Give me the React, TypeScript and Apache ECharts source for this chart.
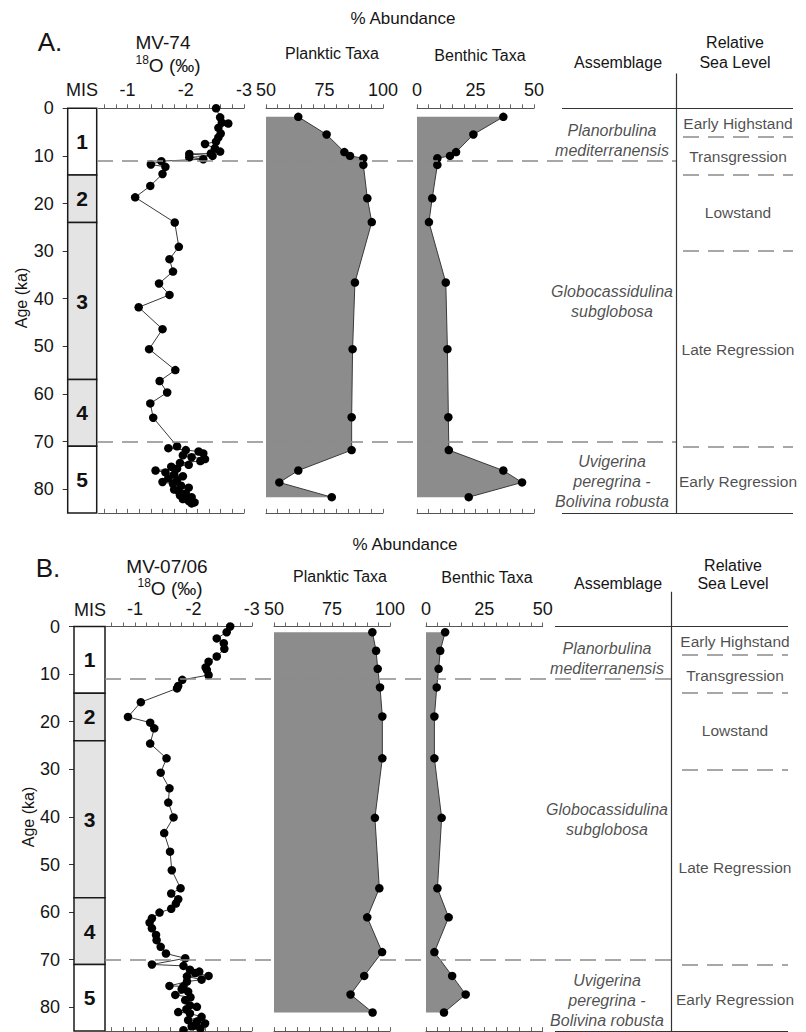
import React, { useEffect, useRef } from 'react';
import * as echarts from 'echarts';

const FONT = '"Liberation Sans", Arial, Helvetica, sans-serif';

// ---------- shared scales / annotations ----------
const ageMax = 85;
const ageTicks = [0, 10, 20, 30, 40, 50, 60, 70, 80];
const isoTicks = [-3, -2.8, -2.6, -2.4, -2.2, -2, -1.8, -1.6, -1.4, -1.2, -1, -0.8, -0.6];
const isoTickLabels = [-3, -2, -1];
const planktonTicks = [50, 55, 60, 65, 70, 75, 80, 85, 90, 95, 100];
const planktonTickLabels = [50, 75, 100];
const benthicTicks = [0, 5, 10, 15, 20, 25, 30, 35, 40, 45, 50];
const benthicTickLabels = [0, 25, 50];

const misStages = ['1', '2', '3', '4', '5'];
const misBounds = [0, 14, 24, 57, 71, 85];
const misGlacial = [false, true, true, true, false];

const assemblages = ['Planorbulina\nmediterranensis', 'Globocassidulina\nsubglobosa', 'Uvigerina\nperegrina -\nBolivina robusta'];
const assemblageAges = [6.7, 40.5, 78.5];
const assemblageBounds = [11, 70];
const seaLevels = ['Early Highstand', 'Transgression', 'Lowstand', 'Late Regression', 'Early Regression'];
const seaLevelAges = [3.2, 10.2, 21.8, 50.7, 78.4];
const seaLevelBounds = [6, 14, 30, 71];

// ---------- Panel A : MV-74 ----------
const aIsoAge = [0.0, 1.9, 3.0, 3.2, 4.1, 5.3, 6.1, 7.0, 7.5, 8.4, 9.1, 9.5, 9.6, 10.0, 10.3, 10.7, 11.1, 11.8, 12.3, 13.8, 16.3, 18.7, 24.0, 29.1, 31.7, 34.3, 36.8, 39.2, 41.8, 46.4, 50.6, 55.0, 57.3, 59.7, 62.0, 65.0, 71.0, 71.4, 71.8, 72.1, 72.5, 72.9, 73.3, 73.7, 74.1, 74.5, 74.9, 75.3, 75.7, 76.1, 76.5, 76.9, 77.3, 77.7, 78.1, 78.5, 78.9, 79.3, 79.7, 80.1, 80.5, 80.9, 81.3, 81.7, 82.1, 82.5, 82.8, 83.0];
const aIso = [-2.52, -2.59, -2.62, -2.73, -2.56, -2.60, -2.56, -2.52, -2.33, -2.50, -2.59, -2.43, -2.06, -2.46, -2.06, -2.30, -1.58, -1.40, -1.65, -1.60, -1.39, -1.13, -1.81, -1.88, -1.72, -1.78, -1.54, -1.72, -1.19, -1.60, -1.37, -1.82, -1.55, -1.68, -1.39, -1.44, -1.85, -1.70, -2.00, -2.22, -2.30, -1.95, -2.10, -2.33, -2.25, -1.90, -2.05, -1.75, -1.85, -1.48, -1.65, -1.80, -1.95, -1.70, -1.85, -1.60, -1.78, -1.92, -2.05, -1.80, -1.88, -2.00, -1.90, -2.10, -1.95, -2.05, -2.15, -2.10];
const aTaxaAge = [1.8, 5.5, 9.2, 10.0, 10.5, 11.9, 18.9, 23.9, 36.6, 50.6, 64.9, 71.8, 76.1, 78.6, 81.7];
const aPlanktic = [63.8, 75.9, 83.5, 85.9, 91.6, 91.6, 93.3, 95.2, 88.0, 87.0, 86.6, 86.6, 63.8, 55.7, 78.1];
const aBenthic = [36.9, 24.1, 16.7, 14.1, 8.7, 8.7, 6.5, 5.1, 12.3, 13.0, 13.4, 13.6, 36.9, 44.9, 22.1];

// ---------- Panel B : MV-07/06 ----------
const bIsoAge = [0.0, 1.2, 2.5, 3.5, 4.7, 6.3, 7.4, 8.6, 9.1, 10.2, 11.2, 12.5, 13.0, 15.9, 19.0, 20.2, 21.4, 24.6, 27.7, 30.7, 34.0, 37.0, 40.1, 43.4, 47.3, 51.2, 55.0, 56.1, 57.3, 58.2, 59.3, 60.1, 61.3, 62.2, 63.4, 64.8, 65.9, 67.3, 68.7, 69.7, 71.0, 71.3, 72.1, 72.5, 72.8, 73.4, 73.5, 74.2, 74.6, 75.5, 75.6, 76.2, 76.7, 77.4, 77.9, 78.5, 79.6, 79.9, 80.4, 81.0, 81.3, 82.0, 82.7, 83.0, 83.4, 83.8, 84.0, 84.5, 84.8];
const bIso = [-2.63, -2.57, -2.40, -2.52, -2.53, -2.40, -2.26, -2.21, -2.23, -2.26, -1.81, -1.74, -1.72, -1.10, -0.88, -1.26, -1.33, -1.26, -1.54, -1.44, -1.59, -1.57, -1.66, -1.50, -1.60, -1.63, -1.78, -1.62, -1.74, -1.70, -1.62, -1.42, -1.29, -1.25, -1.29, -1.36, -1.37, -1.44, -1.53, -1.86, -1.29, -1.83, -1.94, -2.10, -2.03, -2.26, -1.89, -2.14, -1.89, -1.59, -1.83, -1.80, -1.91, -1.69, -1.95, -1.86, -1.94, -2.06, -1.88, -1.74, -1.94, -2.14, -1.91, -2.06, -2.20, -2.02, -1.97, -2.12, -1.83];
const bTaxaAge = [1.2, 5.1, 8.9, 12.8, 18.9, 27.7, 40.2, 55.0, 61.1, 68.4, 73.4, 77.3, 81.1];
const bPlanktic = [92.4, 94.0, 94.7, 95.7, 96.7, 96.7, 93.5, 95.4, 90.2, 96.6, 88.9, 83.0, 92.5];
const bBenthic = [8.2, 6.1, 5.4, 4.6, 3.6, 3.6, 6.7, 4.9, 9.7, 3.6, 11.2, 17.0, 7.7];

// ---------- layout (pixels) ----------
const PX = 4.76; // px per ka
const HEAD = 15; // ka of head-room for the overlay grid

type Head = { t: string; x: number; y: number; s: number; rich?: boolean };
const layoutA = {
  y0: 108.3,
  mis: [67.7, 29], iso: [98.5, 145.5], pl: [266, 117], be: [417, 117],
  longDash: [97, 676.7], divider: 676.7, dividerTop: -7.3,
  rule: [562, 793], seaDash: [683, 793], asmX: 612, seaX: 738,
  ageLabel: [21.5, 298],
  heads: [
    { t: '% Abundance', x: 403, y: 18, s: 17 },
    { t: 'A.', x: 50, y: 42, s: 26 },
    { t: 'MV-74', x: 163, y: 42, s: 19 },
    { t: '{s|18}O (‰)', x: 168, y: 65, s: 19, rich: true },
    { t: 'MIS', x: 82, y: 90, s: 18 },
    { t: 'Planktic Taxa', x: 332, y: 53, s: 16 },
    { t: 'Benthic Taxa', x: 480, y: 55, s: 16 },
    { t: 'Assemblage', x: 618, y: 62, s: 16 },
    { t: 'Relative', x: 735, y: 42, s: 16 },
    { t: 'Sea Level', x: 735, y: 62, s: 16 },
  ] as Head[],
};
const layoutB = {
  y0: 626.5,
  mis: [74, 31], iso: [105.8, 146], pl: [274, 116], be: [426, 116.7],
  longDash: [105, 671.7], divider: 671.7, dividerTop: -7.3,
  rule: [555, 788], seaDash: [682, 788], asmX: 607, seaX: 735,
  ageLabel: [28, 817],
  heads: [
    { t: '% Abundance', x: 405, y: 544, s: 17 },
    { t: 'B.', x: 48, y: 568, s: 26 },
    { t: 'MV-07/06', x: 167, y: 566, s: 19 },
    { t: '{s|18}O (‰)', x: 170, y: 588, s: 19, rich: true },
    { t: 'MIS', x: 90, y: 610, s: 18 },
    { t: 'Planktic Taxa', x: 340, y: 576, s: 16 },
    { t: 'Benthic Taxa', x: 487, y: 577, s: 16 },
    { t: 'Assemblage', x: 618, y: 583, s: 16 },
    { t: 'Relative', x: 733, y: 565, s: 16 },
    { t: 'Sea Level', x: 733, y: 583, s: 16 },
  ] as Head[],
};

const panels = [
  { L: layoutA, isoAge: aIsoAge, iso: aIso, taxaAge: aTaxaAge, planktic: aPlanktic, benthic: aBenthic },
  { L: layoutB, isoAge: bIsoAge, iso: bIso, taxaAge: bTaxaAge, planktic: bPlanktic, benthic: bBenthic },
];

const TXT = '#151515';
const DASH = { type: [16, 9] as any, color: '#8a8a8a', width: 1.5 };
const SOLID = { type: 'solid' as any, color: '#333', width: 1.2 };

function buildOption() {
  const grid: any[] = [];
  const xAxis: any[] = [];
  const yAxis: any[] = [];
  const series: any[] = [];
  const graphic: any[] = [];

  const addGrid = (left: number, width: number, top: number, height: number) => {
    grid.push({ left, width, top, height, containLabel: false, outerBoundsMode: 'none' });
    return grid.length - 1;
  };
  const pushX = (gi: number, min: number, max: number, inverse: boolean, position: string, ticks: number[], labels: number[] | null) => {
    xAxis.push({
      type: 'value', gridIndex: gi, min, max, inverse, position,
      axisLine: { show: true, onZero: false, lineStyle: { color: '#555', width: 1 } },
      axisTick: { show: true, inside: position === 'bottom', length: 4, customValues: ticks, lineStyle: { color: '#666', width: 1 } },
      axisLabel: labels
        ? { show: true, customValues: labels, fontSize: 18, margin: 9, color: TXT, fontFamily: FONT }
        : { show: false },
      splitLine: { show: false },
    });
    return xAxis.length - 1;
  };
  const hiddenAge = (gi: number, min = 0) => {
    yAxis.push({ type: 'value', gridIndex: gi, min, max: ageMax, inverse: true, show: false, splitLine: { show: false } });
    return yAxis.length - 1;
  };
  const lineSeries = (xi: number, yi: number, ages: number[], vals: number[]) => ({
    type: 'line', xAxisIndex: xi, yAxisIndex: yi,
    data: ages.map((a, i) => [vals[i], a]),
    symbol: 'circle', symbolSize: 8.5, showAllSymbol: true, clip: false,
    itemStyle: { color: '#000' }, lineStyle: { color: '#3a3a3a', width: 1 },
    silent: true, z: 4,
  });
  const fillSeries = (xi: number, yi: number, base: number, ages: number[], vals: number[]) => ({
    type: 'custom', xAxisIndex: xi, yAxisIndex: yi, silent: true, z: 1,
    data: [[base, ages[0]]],
    renderItem: (params: any, api: any) => {
      if (params.dataIndex !== 0) return null;
      const pts = [api.coord([base, ages[0]])]
        .concat(vals.map((v, i) => api.coord([v, ages[i]])))
        .concat([api.coord([base, ages[ages.length - 1]])]);
      return { type: 'polygon', shape: { points: pts }, style: { fill: '#8c8c8c', stroke: 'none' } };
    },
  });

  panels.forEach((P) => {
    const L = P.L;
    const h = ageMax * PX;

    // MIS column with the age axis
    const gM = addGrid(L.mis[0], L.mis[1], L.y0, h);
    xAxis.push({ type: 'value', gridIndex: gM, min: 0, max: 1, show: false });
    const xM = xAxis.length - 1;
    yAxis.push({
      type: 'value', gridIndex: gM, min: 0, max: ageMax, inverse: true,
      axisLine: { show: false }, splitLine: { show: false },
      axisTick: { show: true, length: 5, customValues: ageTicks, lineStyle: { color: '#333', width: 1 } },
      axisLabel: { show: true, customValues: ageTicks, fontSize: 18, margin: 14, color: TXT, fontFamily: FONT },
    });
    const yM = yAxis.length - 1;
    series.push({
      type: 'scatter', xAxisIndex: xM, yAxisIndex: yM, data: [[0.5, 0]], symbolSize: 0, silent: true,
      itemStyle: { color: 'rgba(0,0,0,0)' },
      markArea: {
        silent: true,
        label: { show: true, position: 'inside', fontSize: 21, fontWeight: 'bold', color: '#111', fontFamily: FONT },
        data: misStages.map((n, i) => [
          { name: n, yAxis: misBounds[i], itemStyle: { color: misGlacial[i] ? '#e4e4e4' : '#ffffff', borderColor: '#1a1a1a', borderWidth: 1.5 } },
          { yAxis: misBounds[i + 1] },
        ]),
      },
    });

    // delta 18O
    const gI = addGrid(L.iso[0], L.iso[1], L.y0, h);
    const xI = pushX(gI, -3, -0.5, true, 'top', isoTicks, isoTickLabels);
    pushX(gI, -3, -0.5, true, 'bottom', isoTicks, null);
    const yI = hiddenAge(gI);
    series.push(lineSeries(xI, yI, P.isoAge, P.iso));

    // planktic
    const gP = addGrid(L.pl[0], L.pl[1], L.y0, h);
    const xP = pushX(gP, 50, 100, false, 'top', planktonTicks, planktonTickLabels);
    pushX(gP, 50, 100, false, 'bottom', planktonTicks, null);
    const yP = hiddenAge(gP);
    series.push(fillSeries(xP, yP, 50, P.taxaAge, P.planktic));
    series.push(lineSeries(xP, yP, P.taxaAge, P.planktic));

    // benthic
    const gB = addGrid(L.be[0], L.be[1], L.y0, h);
    const xB = pushX(gB, 0, 50, false, 'top', benthicTicks, benthicTickLabels);
    pushX(gB, 0, 50, false, 'bottom', benthicTicks, null);
    const yB = hiddenAge(gB);
    series.push(fillSeries(xB, yB, 0, P.taxaAge, P.benthic));
    series.push(lineSeries(xB, yB, P.taxaAge, P.benthic));

    // overlay grid: x in page pixels, y in ka
    const gO = addGrid(0, 806, L.y0 - HEAD * PX, (ageMax + HEAD) * PX);
    xAxis.push({ type: 'value', gridIndex: gO, min: 0, max: 806, show: false });
    const xO = xAxis.length - 1;
    const yO = hiddenAge(gO, -HEAD);

    const seg = (x1: number, y1: number, x2: number, y2: number, style: any) => [
      { coord: [x1, y1], lineStyle: style },
      { coord: [x2, y2] },
    ];
    const lines: any[] = [];
    assemblageBounds.forEach((a) => lines.push(seg(L.longDash[0], a, L.longDash[1], a, DASH)));
    seaLevelBounds.forEach((a) => lines.push(seg(L.seaDash[0], a, L.seaDash[1], a, DASH)));
    lines.push(seg(L.rule[0], 0, L.rule[1], 0, SOLID));
    lines.push(seg(L.rule[0], ageMax, L.rule[1], ageMax, SOLID));
    lines.push(seg(L.divider, L.dividerTop, L.divider, ageMax, SOLID));

    series.push({
      type: 'scatter', xAxisIndex: xO, yAxisIndex: yO, data: [[0, -HEAD]], symbolSize: 0, silent: true, z: 6,
      itemStyle: { color: 'rgba(0,0,0,0)' },
      markLine: { silent: true, symbol: ['none', 'none'], label: { show: false }, data: lines },
    });
    series.push({
      type: 'scatter', xAxisIndex: xO, yAxisIndex: yO, symbolSize: 1, silent: true, z: 6,
      itemStyle: { color: 'rgba(0,0,0,0)' },
      data: assemblages.map((n, i) => ({ name: n, value: [L.asmX, assemblageAges[i]] })),
      label: { show: true, position: 'inside', formatter: '{b}', fontSize: 16, fontStyle: 'italic', lineHeight: 20, color: '#1e1e1e', fontFamily: FONT, align: 'center', verticalAlign: 'middle' },
    });
    series.push({
      type: 'scatter', xAxisIndex: xO, yAxisIndex: yO, symbolSize: 1, silent: true, z: 6,
      itemStyle: { color: 'rgba(0,0,0,0)' },
      data: seaLevels.map((n, i) => ({ name: n, value: [L.seaX, seaLevelAges[i]] })),
      label: { show: true, position: 'inside', formatter: '{b}', fontSize: 15.5, color: '#1e1e1e', fontFamily: FONT, align: 'center', verticalAlign: 'middle' },
    });

    // header texts
    L.heads.forEach((hd) => {
      graphic.push({
        type: 'text', x: hd.x, y: hd.y, silent: true,
        style: {
          text: hd.t, fontSize: hd.s, fontFamily: FONT, fill: TXT,
          align: 'center', verticalAlign: 'middle', textAlign: 'center', textVerticalAlign: 'middle',
          lineHeight: hd.rich ? 22 : undefined,
          rich: hd.rich
            ? { s: { fontSize: 12, fontFamily: FONT, fill: TXT, verticalAlign: 'top', lineHeight: 12 } }
            : undefined,
        },
      });
    });
    graphic.push({
      type: 'text', x: L.ageLabel[0], y: L.ageLabel[1], rotation: Math.PI / 2, silent: true,
      style: {
        text: 'Age (ka)', fontSize: 16, fontFamily: FONT, fill: TXT,
        align: 'center', verticalAlign: 'middle', textAlign: 'center', textVerticalAlign: 'middle',
      },
    });
  });

  return {
    animation: false,
    backgroundColor: '#ffffff',
    textStyle: { fontFamily: FONT },
    grid, xAxis, yAxis, series, graphic,
  };
}

export default function App() {
  const ref = useRef<HTMLDivElement>(null);
  useEffect(() => {
    const prev = document.body.style.margin;
    document.body.style.margin = '0';
    const chart = echarts.init(ref.current as HTMLDivElement, null, { renderer: 'svg' });
    chart.setOption(buildOption() as any);
    return () => {
      chart.dispose();
      document.body.style.margin = prev;
    };
  }, []);
  return <div ref={ref} style={{ width: 806, height: 1032 }} />;
}
